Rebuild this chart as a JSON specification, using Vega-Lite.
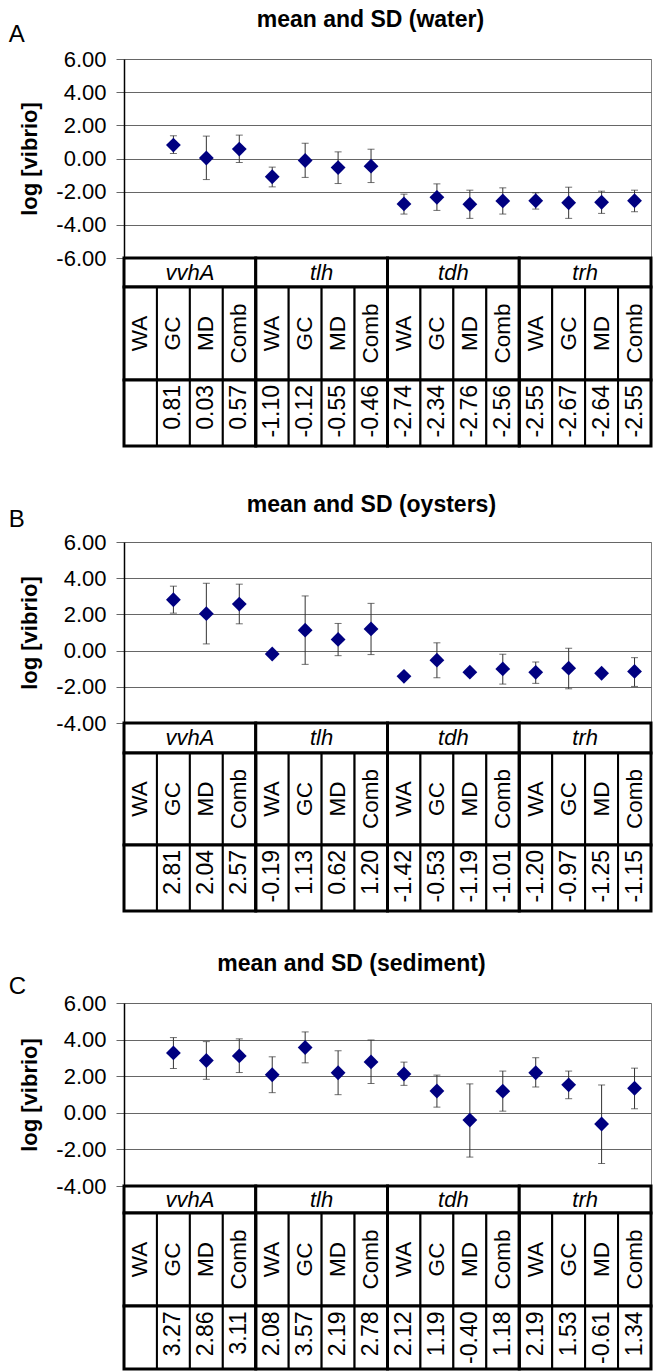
{
  "$schema": "https://vega.github.io/schema/vega-lite/v6.json",
  "padding": {"left": 8, "top": 8, "right": 0, "bottom": 0},
  "background": "white",
  "config": {
    "font": "Liberation Sans",
    "view": {"stroke": null},
    "locale": {"number": {"decimal": ".", "thousands": ",", "grouping": [3], "currency": ["$", ""], "minus": "-"}},
    "title": {"fontSize": 23, "fontWeight": "bold", "color": "black", "font": "Liberation Sans"},
    "axis": {
      "labelFont": "Liberation Sans", "labelFontSize": 22, "labelColor": "black", "labelOverlap": false,
      "tickSize": 8, "tickColor": "#666", "labelPadding": 10,
      "domainColor": "black", "domainWidth": 1.5,
      "gridColor": "#666", "gridWidth": 1,
      "titleFont": "Liberation Sans", "titleFontSize": 22, "titleFontWeight": "bold", "titleColor": "black", "titlePadding": 14
    },
    "text": {"font": "Liberation Sans", "color": "black"}
  },
  "datasets": {
    "genes": [{"gene": "vvhA"}, {"gene": "tlh"}, {"gene": "tdh"}, {"gene": "trh"}],
    "water": [
      {"gene": "vvhA", "site": "WA", "mean": null, "lo": null, "hi": null},
      {"gene": "vvhA", "site": "GC", "mean": 0.81, "lo": 0.30, "hi": 1.37},
      {"gene": "vvhA", "site": "MD", "mean": 0.03, "lo": -1.27, "hi": 1.35},
      {"gene": "vvhA", "site": "Comb", "mean": 0.57, "lo": -0.24, "hi": 1.41},
      {"gene": "tlh", "site": "WA", "mean": -1.10, "lo": -1.71, "hi": -0.52},
      {"gene": "tlh", "site": "GC", "mean": -0.12, "lo": -1.14, "hi": 0.92},
      {"gene": "tlh", "site": "MD", "mean": -0.55, "lo": -1.51, "hi": 0.40},
      {"gene": "tlh", "site": "Comb", "mean": -0.46, "lo": -1.45, "hi": 0.56},
      {"gene": "tdh", "site": "WA", "mean": -2.74, "lo": -3.35, "hi": -2.15},
      {"gene": "tdh", "site": "GC", "mean": -2.34, "lo": -3.13, "hi": -1.53},
      {"gene": "tdh", "site": "MD", "mean": -2.76, "lo": -3.61, "hi": -1.91},
      {"gene": "tdh", "site": "Comb", "mean": -2.56, "lo": -3.35, "hi": -1.77},
      {"gene": "trh", "site": "WA", "mean": -2.55, "lo": -3.05, "hi": -2.07},
      {"gene": "trh", "site": "GC", "mean": -2.67, "lo": -3.61, "hi": -1.73},
      {"gene": "trh", "site": "MD", "mean": -2.64, "lo": -3.31, "hi": -1.97},
      {"gene": "trh", "site": "Comb", "mean": -2.55, "lo": -3.21, "hi": -1.91}
    ],
    "oysters": [
      {"gene": "vvhA", "site": "WA", "mean": null, "lo": null, "hi": null},
      {"gene": "vvhA", "site": "GC", "mean": 2.81, "lo": 2.07, "hi": 3.56},
      {"gene": "vvhA", "site": "MD", "mean": 2.04, "lo": 0.37, "hi": 3.72},
      {"gene": "vvhA", "site": "Comb", "mean": 2.57, "lo": 1.48, "hi": 3.67},
      {"gene": "tlh", "site": "WA", "mean": -0.19, "lo": null, "hi": null},
      {"gene": "tlh", "site": "GC", "mean": 1.13, "lo": -0.76, "hi": 3.02},
      {"gene": "tlh", "site": "MD", "mean": 0.62, "lo": -0.28, "hi": 1.50},
      {"gene": "tlh", "site": "Comb", "mean": 1.20, "lo": -0.22, "hi": 2.61},
      {"gene": "tdh", "site": "WA", "mean": -1.42, "lo": null, "hi": null},
      {"gene": "tdh", "site": "GC", "mean": -0.53, "lo": -1.50, "hi": 0.43},
      {"gene": "tdh", "site": "MD", "mean": -1.19, "lo": null, "hi": null},
      {"gene": "tdh", "site": "Comb", "mean": -1.01, "lo": -1.85, "hi": -0.20},
      {"gene": "trh", "site": "WA", "mean": -1.20, "lo": -1.81, "hi": -0.63},
      {"gene": "trh", "site": "GC", "mean": -0.97, "lo": -2.11, "hi": 0.13},
      {"gene": "trh", "site": "MD", "mean": -1.25, "lo": null, "hi": null},
      {"gene": "trh", "site": "Comb", "mean": -1.15, "lo": -1.98, "hi": -0.39}
    ],
    "sediment": [
      {"gene": "vvhA", "site": "WA", "mean": null, "lo": null, "hi": null},
      {"gene": "vvhA", "site": "GC", "mean": 3.27, "lo": 2.42, "hi": 4.11},
      {"gene": "vvhA", "site": "MD", "mean": 2.86, "lo": 1.83, "hi": 3.89},
      {"gene": "vvhA", "site": "Comb", "mean": 3.11, "lo": 2.20, "hi": 4.04},
      {"gene": "tlh", "site": "WA", "mean": 2.08, "lo": 1.10, "hi": 3.06},
      {"gene": "tlh", "site": "GC", "mean": 3.57, "lo": 2.73, "hi": 4.42},
      {"gene": "tlh", "site": "MD", "mean": 2.19, "lo": 0.99, "hi": 3.39},
      {"gene": "tlh", "site": "Comb", "mean": 2.78, "lo": 1.60, "hi": 3.98},
      {"gene": "tdh", "site": "WA", "mean": 2.12, "lo": 1.50, "hi": 2.77},
      {"gene": "tdh", "site": "GC", "mean": 1.19, "lo": 0.31, "hi": 2.06},
      {"gene": "tdh", "site": "MD", "mean": -0.40, "lo": -2.42, "hi": 1.58},
      {"gene": "tdh", "site": "Comb", "mean": 1.18, "lo": 0.09, "hi": 2.28},
      {"gene": "trh", "site": "WA", "mean": 2.19, "lo": 1.41, "hi": 3.01},
      {"gene": "trh", "site": "GC", "mean": 1.53, "lo": 0.77, "hi": 2.28},
      {"gene": "trh", "site": "MD", "mean": -0.61, "lo": -2.77, "hi": 1.52},
      {"gene": "trh", "site": "Comb", "mean": 1.34, "lo": 0.22, "hi": 2.44}
    ]
  },
  "spacing": 45,
  "vconcat": [
    {
      "title": {"text": "mean and SD (water)", "anchor": "middle", "frame": "bounds", "dx": 40, "offset": -9},
      "bounds": "flush",
      "spacing": 0,
      "vconcat": [
        {
          "title": {"text": "A", "anchor": "start", "frame": "bounds", "fontSize": 24, "fontWeight": "normal", "dx": -10, "offset": 1},
          "width": 527, "height": 199,
          "view": {"stroke": "#808080"},
          "data": {"name": "water"},
          "encoding": {
            "x": {"field": "gene", "type": "nominal", "sort": ["vvhA", "tlh", "tdh", "trh"], "scale": {"paddingInner": 0, "paddingOuter": 0}, "axis": null},
            "xOffset": {"field": "site", "type": "nominal", "sort": ["WA", "GC", "MD", "Comb"], "scale": {"paddingInner": 0, "paddingOuter": 0}}
          },
          "layer": [
            {"mark": {"type": "rule", "color": "#333", "strokeWidth": 1},
             "encoding": {"y": {"field": "lo", "type": "quantitative", "title": "log [vibrio]", "scale": {"domain": [-6, 6], "nice": false, "zero": false}, "axis": {"values": [-6, -4, -2, 0, 2, 4, 6], "tickCount": 20, "format": ".2f", "grid": true}}, "y2": {"field": "hi"}}},
            {"mark": {"type": "tick", "color": "#333", "thickness": 1, "size": 7}, "encoding": {"y": {"field": "lo", "type": "quantitative", "title": "log [vibrio]"}}},
            {"mark": {"type": "tick", "color": "#333", "thickness": 1, "size": 7}, "encoding": {"y": {"field": "hi", "type": "quantitative", "title": "log [vibrio]"}}},
            {"mark": {"type": "point", "shape": "diamond", "filled": true, "size": 220, "color": "#000080", "opacity": 1}, "encoding": {"y": {"field": "mean", "type": "quantitative", "title": "log [vibrio]"}}}
          ]
        },
        {
          "width": 527, "height": 29,
          "data": {"name": "genes"},
          "encoding": {"x": {"field": "gene", "type": "nominal", "sort": ["vvhA", "tlh", "tdh", "trh"], "scale": {"paddingInner": 0, "paddingOuter": 0}, "axis": null}},
          "layer": [
            {"mark": {"type": "rect", "fill": "white", "stroke": "black", "strokeWidth": 3}},
            {"mark": {"type": "text", "fontSize": 22, "fontStyle": "italic", "baseline": "middle"}, "encoding": {"text": {"field": "gene"}}}
          ]
        },
        {
          "width": 527, "height": 93,
          "data": {"name": "water"},
          "encoding": {"x": {"field": "gene", "type": "nominal", "sort": ["vvhA", "tlh", "tdh", "trh"], "scale": {"paddingInner": 0, "paddingOuter": 0}, "axis": null}},
          "layer": [
            {"mark": {"type": "rect", "fill": "white", "stroke": "black", "strokeWidth": 2}, "encoding": {"xOffset": {"field": "site", "type": "nominal", "sort": ["WA", "GC", "MD", "Comb"], "scale": {"paddingInner": 0, "paddingOuter": 0}}}},
            {"mark": {"type": "text", "fontSize": 22.5, "angle": 270, "align": "center", "baseline": "middle"}, "encoding": {"xOffset": {"field": "site", "type": "nominal", "sort": ["WA", "GC", "MD", "Comb"]}, "text": {"field": "site"}}},
            {"data": {"name": "genes"}, "mark": {"type": "rect", "fill": "white", "fillOpacity": 0, "stroke": "black", "strokeWidth": 3}}
          ]
        },
        {
          "width": 527, "height": 66,
          "data": {"name": "water"},
          "encoding": {"x": {"field": "gene", "type": "nominal", "sort": ["vvhA", "tlh", "tdh", "trh"], "scale": {"paddingInner": 0, "paddingOuter": 0}, "axis": null}},
          "layer": [
            {"mark": {"type": "rect", "fill": "white", "stroke": "black", "strokeWidth": 2}, "encoding": {"xOffset": {"field": "site", "type": "nominal", "sort": ["WA", "GC", "MD", "Comb"], "scale": {"paddingInner": 0, "paddingOuter": 0}}}},
            {"transform": [{"filter": "isValid(datum.mean)"}], "mark": {"type": "text", "fontSize": 23, "angle": 270, "align": "right", "baseline": "middle", "dx": 28}, "encoding": {"xOffset": {"field": "site", "type": "nominal", "sort": ["WA", "GC", "MD", "Comb"]}, "text": {"field": "mean", "type": "quantitative", "format": ".2f"}}},
            {"data": {"name": "genes"}, "mark": {"type": "rect", "fill": "white", "fillOpacity": 0, "stroke": "black", "strokeWidth": 3}}
          ]
        }
      ]
    },
    {
      "spacing": 39,
      "vconcat": [
        {
          "title": {"text": "mean and SD (oysters)", "anchor": "middle", "frame": "bounds", "dx": 41, "offset": -9},
          "bounds": "flush",
          "spacing": 0,
          "vconcat": [
            {
              "title": {"text": "B", "anchor": "start", "frame": "bounds", "fontSize": 24, "fontWeight": "normal", "dx": -10, "offset": -1},
              "width": 527, "height": 181,
              "view": {"stroke": "#808080"},
              "data": {"name": "oysters"},
              "encoding": {
                "x": {"field": "gene", "type": "nominal", "sort": ["vvhA", "tlh", "tdh", "trh"], "scale": {"paddingInner": 0, "paddingOuter": 0}, "axis": null},
                "xOffset": {"field": "site", "type": "nominal", "sort": ["WA", "GC", "MD", "Comb"], "scale": {"paddingInner": 0, "paddingOuter": 0}}
              },
              "layer": [
                {"mark": {"type": "rule", "color": "#333", "strokeWidth": 1},
                 "encoding": {"y": {"field": "lo", "type": "quantitative", "title": "log [vibrio]", "scale": {"domain": [-4, 6], "nice": false, "zero": false}, "axis": {"values": [-4, -2, 0, 2, 4, 6], "tickCount": 20, "format": ".2f", "grid": true}}, "y2": {"field": "hi"}}},
                {"mark": {"type": "tick", "color": "#333", "thickness": 1, "size": 7}, "encoding": {"y": {"field": "lo", "type": "quantitative", "title": "log [vibrio]"}}},
                {"mark": {"type": "tick", "color": "#333", "thickness": 1, "size": 7}, "encoding": {"y": {"field": "hi", "type": "quantitative", "title": "log [vibrio]"}}},
                {"mark": {"type": "point", "shape": "diamond", "filled": true, "size": 220, "color": "#000080", "opacity": 1}, "encoding": {"y": {"field": "mean", "type": "quantitative", "title": "log [vibrio]"}}}
              ]
            },
            {
              "width": 527, "height": 30,
              "data": {"name": "genes"},
              "encoding": {"x": {"field": "gene", "type": "nominal", "sort": ["vvhA", "tlh", "tdh", "trh"], "scale": {"paddingInner": 0, "paddingOuter": 0}, "axis": null}},
              "layer": [
                {"mark": {"type": "rect", "fill": "white", "stroke": "black", "strokeWidth": 3}},
                {"mark": {"type": "text", "fontSize": 22, "fontStyle": "italic", "baseline": "middle"}, "encoding": {"text": {"field": "gene"}}}
              ]
            },
            {
              "width": 527, "height": 92,
              "data": {"name": "oysters"},
              "encoding": {"x": {"field": "gene", "type": "nominal", "sort": ["vvhA", "tlh", "tdh", "trh"], "scale": {"paddingInner": 0, "paddingOuter": 0}, "axis": null}},
              "layer": [
                {"mark": {"type": "rect", "fill": "white", "stroke": "black", "strokeWidth": 2}, "encoding": {"xOffset": {"field": "site", "type": "nominal", "sort": ["WA", "GC", "MD", "Comb"], "scale": {"paddingInner": 0, "paddingOuter": 0}}}},
                {"mark": {"type": "text", "fontSize": 22.5, "angle": 270, "align": "center", "baseline": "middle"}, "encoding": {"xOffset": {"field": "site", "type": "nominal", "sort": ["WA", "GC", "MD", "Comb"]}, "text": {"field": "site"}}},
                {"data": {"name": "genes"}, "mark": {"type": "rect", "fill": "white", "fillOpacity": 0, "stroke": "black", "strokeWidth": 3}}
              ]
            },
            {
              "width": 527, "height": 66,
              "data": {"name": "oysters"},
              "encoding": {"x": {"field": "gene", "type": "nominal", "sort": ["vvhA", "tlh", "tdh", "trh"], "scale": {"paddingInner": 0, "paddingOuter": 0}, "axis": null}},
              "layer": [
                {"mark": {"type": "rect", "fill": "white", "stroke": "black", "strokeWidth": 2}, "encoding": {"xOffset": {"field": "site", "type": "nominal", "sort": ["WA", "GC", "MD", "Comb"], "scale": {"paddingInner": 0, "paddingOuter": 0}}}},
                {"transform": [{"filter": "isValid(datum.mean)"}], "mark": {"type": "text", "fontSize": 23, "angle": 270, "align": "right", "baseline": "middle", "dx": 28}, "encoding": {"xOffset": {"field": "site", "type": "nominal", "sort": ["WA", "GC", "MD", "Comb"]}, "text": {"field": "mean", "type": "quantitative", "format": ".2f"}}},
                {"data": {"name": "genes"}, "mark": {"type": "rect", "fill": "white", "fillOpacity": 0, "stroke": "black", "strokeWidth": 3}}
              ]
            }
          ]
        },
        {
          "title": {"text": "mean and SD (sediment)", "anchor": "middle", "frame": "bounds", "dx": 21, "offset": -1},
          "bounds": "flush",
          "spacing": 0,
          "vconcat": [
            {
              "title": {"text": "C", "anchor": "start", "frame": "bounds", "fontSize": 24, "fontWeight": "normal", "dx": -10, "offset": -7},
              "width": 527, "height": 183,
              "view": {"stroke": "#808080"},
              "data": {"name": "sediment"},
              "encoding": {
                "x": {"field": "gene", "type": "nominal", "sort": ["vvhA", "tlh", "tdh", "trh"], "scale": {"paddingInner": 0, "paddingOuter": 0}, "axis": null},
                "xOffset": {"field": "site", "type": "nominal", "sort": ["WA", "GC", "MD", "Comb"], "scale": {"paddingInner": 0, "paddingOuter": 0}}
              },
              "layer": [
                {"mark": {"type": "rule", "color": "#333", "strokeWidth": 1},
                 "encoding": {"y": {"field": "lo", "type": "quantitative", "title": "log [vibrio]", "scale": {"domain": [-4, 6], "nice": false, "zero": false}, "axis": {"values": [-4, -2, 0, 2, 4, 6], "tickCount": 20, "format": ".2f", "grid": true}}, "y2": {"field": "hi"}}},
                {"mark": {"type": "tick", "color": "#333", "thickness": 1, "size": 7}, "encoding": {"y": {"field": "lo", "type": "quantitative", "title": "log [vibrio]"}}},
                {"mark": {"type": "tick", "color": "#333", "thickness": 1, "size": 7}, "encoding": {"y": {"field": "hi", "type": "quantitative", "title": "log [vibrio]"}}},
                {"mark": {"type": "point", "shape": "diamond", "filled": true, "size": 220, "color": "#000080", "opacity": 1}, "encoding": {"y": {"field": "mean", "type": "quantitative", "title": "log [vibrio]"}}}
              ]
            },
            {
              "width": 527, "height": 27,
              "data": {"name": "genes"},
              "encoding": {"x": {"field": "gene", "type": "nominal", "sort": ["vvhA", "tlh", "tdh", "trh"], "scale": {"paddingInner": 0, "paddingOuter": 0}, "axis": null}},
              "layer": [
                {"mark": {"type": "rect", "fill": "white", "stroke": "black", "strokeWidth": 3}},
                {"mark": {"type": "text", "fontSize": 22, "fontStyle": "italic", "baseline": "middle"}, "encoding": {"text": {"field": "gene"}}}
              ]
            },
            {
              "width": 527, "height": 93,
              "data": {"name": "sediment"},
              "encoding": {"x": {"field": "gene", "type": "nominal", "sort": ["vvhA", "tlh", "tdh", "trh"], "scale": {"paddingInner": 0, "paddingOuter": 0}, "axis": null}},
              "layer": [
                {"mark": {"type": "rect", "fill": "white", "stroke": "black", "strokeWidth": 2}, "encoding": {"xOffset": {"field": "site", "type": "nominal", "sort": ["WA", "GC", "MD", "Comb"], "scale": {"paddingInner": 0, "paddingOuter": 0}}}},
                {"mark": {"type": "text", "fontSize": 22.5, "angle": 270, "align": "center", "baseline": "middle"}, "encoding": {"xOffset": {"field": "site", "type": "nominal", "sort": ["WA", "GC", "MD", "Comb"]}, "text": {"field": "site"}}},
                {"data": {"name": "genes"}, "mark": {"type": "rect", "fill": "white", "fillOpacity": 0, "stroke": "black", "strokeWidth": 3}}
              ]
            },
            {
              "width": 527, "height": 63,
              "data": {"name": "sediment"},
              "encoding": {"x": {"field": "gene", "type": "nominal", "sort": ["vvhA", "tlh", "tdh", "trh"], "scale": {"paddingInner": 0, "paddingOuter": 0}, "axis": null}},
              "layer": [
                {"mark": {"type": "rect", "fill": "white", "stroke": "black", "strokeWidth": 2}, "encoding": {"xOffset": {"field": "site", "type": "nominal", "sort": ["WA", "GC", "MD", "Comb"], "scale": {"paddingInner": 0, "paddingOuter": 0}}}},
                {"transform": [{"filter": "isValid(datum.mean)"}], "mark": {"type": "text", "fontSize": 23, "angle": 270, "align": "right", "baseline": "middle", "dx": 26}, "encoding": {"xOffset": {"field": "site", "type": "nominal", "sort": ["WA", "GC", "MD", "Comb"]}, "text": {"field": "mean", "type": "quantitative", "format": ".2f"}}},
                {"data": {"name": "genes"}, "mark": {"type": "rect", "fill": "white", "fillOpacity": 0, "stroke": "black", "strokeWidth": 3}}
              ]
            }
          ]
        }
      ]
    }
  ]
}
